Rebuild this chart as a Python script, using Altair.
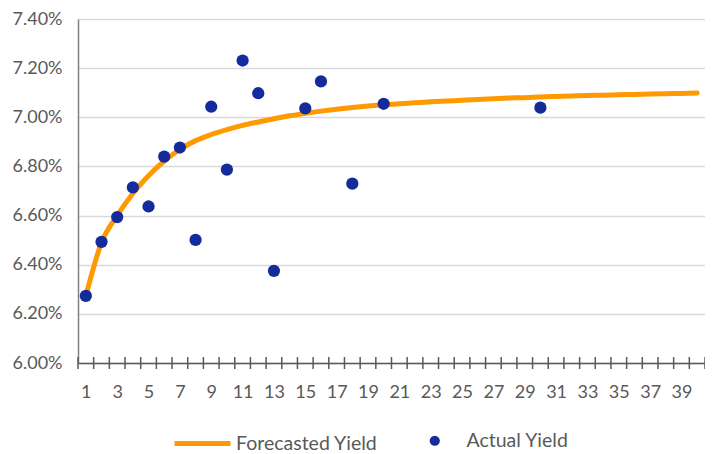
import altair as alt
import pandas as pd

# ---- data ----
maturity = list(range(1, 41))
forecast_pct = [6.273, 6.490, 6.600, 6.690, 6.762, 6.822, 6.869, 6.905, 6.930, 6.950,
                6.967, 6.981, 6.994, 7.006, 7.016, 7.025, 7.033, 7.040, 7.046, 7.051,
                7.055, 7.059, 7.063, 7.066, 7.069, 7.072, 7.075, 7.078, 7.080, 7.083,
                7.085, 7.087, 7.089, 7.090, 7.092, 7.093, 7.095, 7.096, 7.097, 7.099]
actual_maturity = [1, 2, 3, 4, 5, 6, 7, 8, 9, 10, 11, 12, 13, 15, 16, 18, 20, 30]
actual_pct = [6.273, 6.493, 6.594, 6.715, 6.637, 6.840, 6.877, 6.501, 7.043, 6.787,
              7.231, 7.098, 6.375, 7.036, 7.146, 6.730, 7.055, 7.039]
x_labels = maturity[::2]
y_ticks_pct = [6.0, 6.2, 6.4, 6.6, 6.8, 7.0, 7.2, 7.4]
series_names = ["Forecasted Yield", "Actual Yield"]

boundaries = [m - 0.5 for m in maturity] + [maturity[-1] + 0.5]

fc = pd.DataFrame({"m": maturity, "y": [v / 100 for v in forecast_pct], "s": series_names[0]})
ac = pd.DataFrame({"m": actual_maturity, "y": [v / 100 for v in actual_pct], "s": series_names[1]})
tk = pd.DataFrame({"b": boundaries})

FONT = "Lato"
GRAY = "#595959"
ORANGE = "#ff9900"
BLUE = "#142b9c"
W = 627
H = 344

xscale = alt.Scale(domain=[boundaries[0], boundaries[-1]], nice=False, zero=False)
yscale = alt.Scale(domain=[y_ticks_pct[0] / 100, y_ticks_pct[-1] / 100], nice=False, zero=False)

xaxis = alt.Axis(values=x_labels, ticks=False, grid=False, domainColor=GRAY, domainWidth=1.5,
                 labelFont=FONT, labelFontSize=18, labelColor=GRAY, labelPadding=20,
                 labelFlush=False, title=None)
yaxis = alt.Axis(values=[v / 100 for v in y_ticks_pct], format=".2%", ticks=False, grid=True,
                 gridColor="#d9d9d9", gridWidth=1.3, domainColor="#808080", domainWidth=1.5,
                 labelFont=FONT, labelFontSize=18, labelColor=GRAY, labelPadding=16, title=None)

ticks = alt.Chart(tk).mark_rule(color=GRAY, strokeWidth=1.5).encode(
    x=alt.X("b:Q", scale=xscale, axis=xaxis),
    y=alt.value(H - 6),
    y2=alt.value(H + 6),
)

line = alt.Chart(fc).mark_line(strokeWidth=5, interpolate="monotone", strokeCap="round").encode(
    x=alt.X("m:Q", scale=xscale, axis=xaxis),
    y=alt.Y("y:Q", scale=yscale, axis=yaxis),
    stroke=alt.Stroke("s:N", scale=alt.Scale(domain=[series_names[0]], range=[ORANGE]),
                      legend=alt.Legend(orient="none", legendX=94, legendY=394, title=None,
                                        symbolType="stroke", symbolSize=3136, symbolStrokeWidth=5,
                                        labelFont=FONT, labelFontSize=19.5, labelColor=GRAY,
                                        labelOffset=3, padding=0)),
)

points = alt.Chart(ac).mark_circle(size=150, opacity=1).encode(
    x=alt.X("m:Q", scale=xscale, axis=xaxis),
    y=alt.Y("y:Q", scale=yscale, axis=yaxis),
    fill=alt.Fill("s:N", scale=alt.Scale(domain=[series_names[1]], range=[BLUE]),
                  legend=alt.Legend(orient="none", legendX=347, legendY=412, title=None,
                                    symbolType="circle", symbolSize=105, symbolOpacity=1,
                                    labelFont=FONT, labelFontSize=19.5, labelColor=GRAY,
                                    labelOffset=22, padding=0)),
)

chart = alt.layer(ticks, line, points).properties(
    width=W, height=H,
    autosize=alt.AutoSizeParams(type="none"),
    padding={"left": 70, "top": 11, "right": 0, "bottom": 91},
).configure_view(stroke=None).resolve_legend(stroke="independent", fill="independent")

chart.save("out.html", embed_options={"renderer": "svg", "actions": False})
